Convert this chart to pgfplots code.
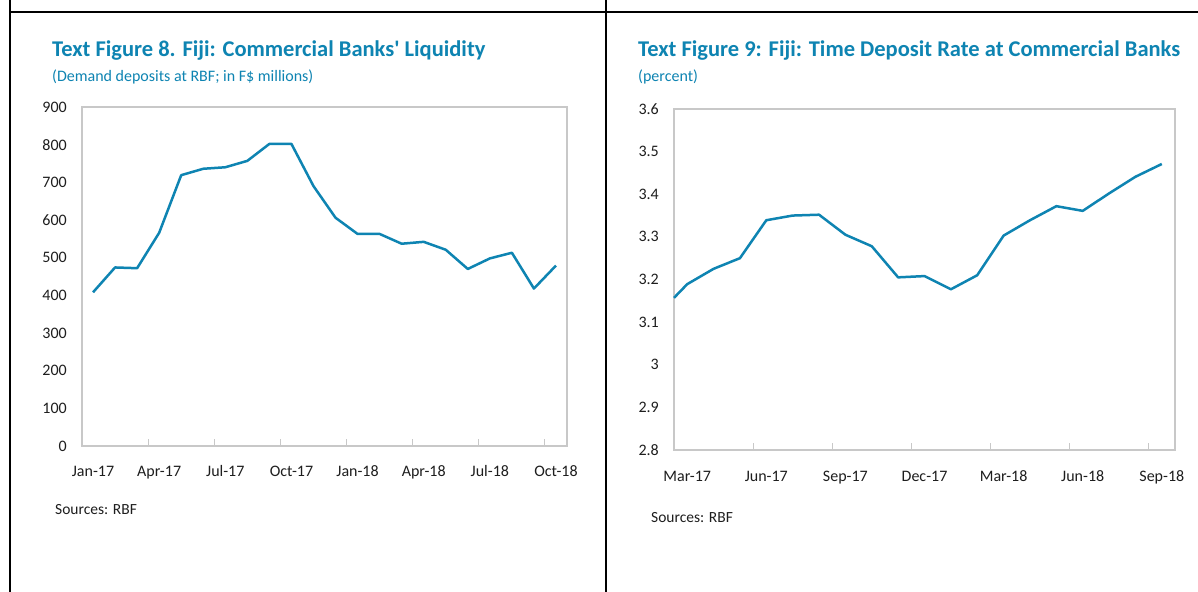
\documentclass[border=0pt]{standalone}
\usepackage{pgfplots}
\pgfplotsset{compat=1.18}
\usepackage{fontspec}
\setmainfont{Carlito}
\definecolor{imfblue}{RGB}{14,132,178}
\definecolor{framegray}{RGB}{200,200,200}
\definecolor{ticktext}{RGB}{30,30,30}
\pgfplotsset{
  panel/.style={
    scale only axis,
    axis line style={framegray, line width=1.2bp},
    ytick style={draw=none},
    major tick length=0bp,
    xtick pos=bottom,
    tick align=inside,
    extra x tick style={major tick length=7bp, tick style={framegray, line width=1bp}},
    extra x tick labels={},
    tick label style={font=\fontsize{16bp}{19bp}\selectfont, text=ticktext},
    yticklabel style={anchor=east, inner sep=0pt, xshift=-15bp},
    xticklabel style={anchor=base, inner sep=0pt, yshift=-31bp},
    clip=false,
  }
}
\begin{document}
\begin{tikzpicture}[x=1bp,y=1bp]
\path[use as bounding box, fill=white] (0,0) rectangle (1198,592);
% frame
\draw[black, line width=2bp] (10,592) -- (10,579.5) -- (1198,579.5);
\draw[black, line width=2bp] (605.5,579.5) -- (605.5,592);
\draw[black, line width=2bp] (10,0) -- (10,592);
\draw[black, line width=2bp] (605.5,0) -- (605.5,592);
% titles
\node[anchor=base west, inner sep=0pt, text=imfblue, font=\bfseries\fontsize{22.5bp}{26bp}\selectfont] at (52,535) {Text Figure 8. Fiji: Commercial Banks\textquotesingle{} Liquidity};
\node[anchor=base west, inner sep=0pt, text=imfblue, font=\fontsize{16bp}{19bp}\selectfont] at (52,510.5) {(Demand deposits at RBF; in F\$ millions)};
\node[anchor=base west, inner sep=0pt, text=imfblue, font=\bfseries\fontsize{22.5bp}{26bp}\selectfont] at (638,535) {Text Figure 9: Fiji: Time Deposit Rate at Commercial Banks};
\node[anchor=base west, inner sep=0pt, text=imfblue, font=\fontsize{16bp}{19bp}\selectfont] at (638,510) {(percent)};
\node[anchor=base west, inner sep=0pt, text=ticktext, font=\fontsize{15.5bp}{18bp}\selectfont] at (55,77) {Sources: RBF};
\node[anchor=base west, inner sep=0pt, text=ticktext, font=\fontsize{15.5bp}{18bp}\selectfont] at (651,69) {Sources: RBF};

\begin{axis}[panel,
  at={(82bp,146bp)}, anchor=south west,
  width=485bp, height=339bp,
  xmin=-0.5, xmax=21.5, ymin=0, ymax=900,
  ytick={0,100,200,300,400,500,600,700,800,900},
  yticklabels={0,100,200,300,400,500,600,700,800,900},
  xtick={0,3,6,9,12,15,18,21},
  xticklabels={Jan-17,Apr-17,Jul-17,Oct-17,Jan-18,Apr-18,Jul-18,Oct-18},
  extra x ticks={2.5,5.5,8.5,11.5,14.5,17.5,20.5},
]
\addplot[imfblue, line width=2.5bp, line join=round, no markers] coordinates {
(0,408) (1,474) (2,472) (3,566) (4,719) (5,736) (6,740) (7,757) (8,802) (9,802)
(10,690) (11,606) (12,563) (13,563) (14,537) (15,542) (16,521) (17,470) (18,498)
(19,513) (20,418) (21,479)
};
\end{axis}

\begin{axis}[panel,
  at={(674bp,142bp)}, anchor=south west,
  width=501bp, height=341bp,
  xmin=-0.5, xmax=18.5, ymin=2.8, ymax=3.6,
  ytick={2.8,2.9,3.0,3.1,3.2,3.3,3.4,3.5,3.6},
  yticklabels={2.8,2.9,3,3.1,3.2,3.3,3.4,3.5,3.6},
  xtick={0,3,6,9,12,15,18},
  xticklabels={Mar-17,Jun-17,Sep-17,Dec-17,Mar-18,Jun-18,Sep-18},
  xticklabel style={yshift=-1bp},
  extra x ticks={2.5,5.5,8.5,11.5,14.5,17.5},
]
\addplot[imfblue, line width=2.5bp, line join=round, no markers] coordinates {
(-0.5,3.157) (0,3.189) (1,3.225) (2,3.250) (3,3.339) (4,3.350) (5,3.352) (6,3.305)
(7,3.278) (8,3.205) (9,3.208) (10,3.177) (11,3.210) (12,3.303) (13,3.339) (14,3.372)
(15,3.361) (16,3.402) (17,3.441) (18,3.471)
};
\end{axis}
\end{tikzpicture}
\end{document}
